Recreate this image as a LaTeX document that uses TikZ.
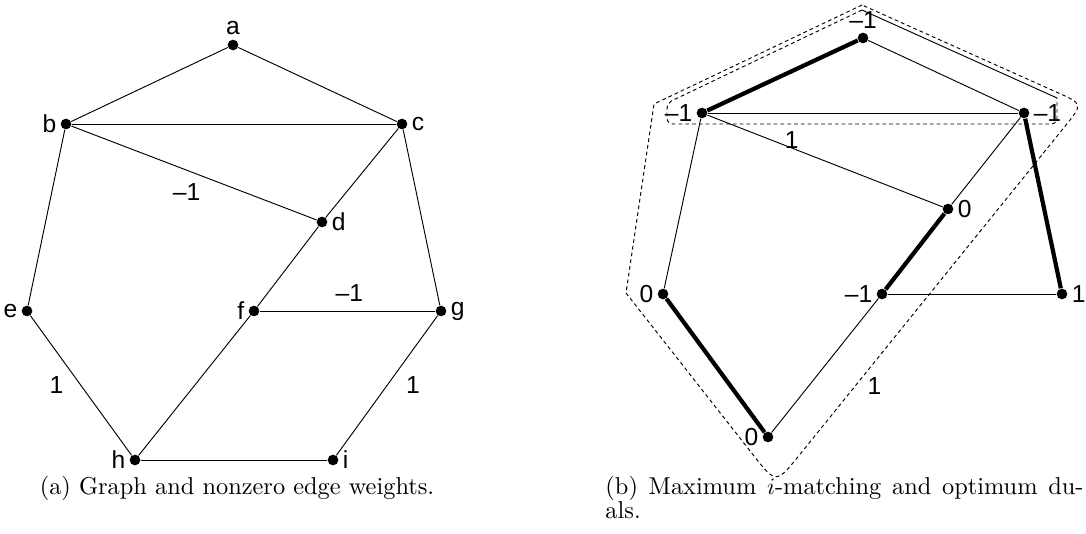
\documentclass[tikz,border=0pt]{standalone}
\usepackage{fontspec}
\newfontfamily\lblfont{Liberation Sans}
\usetikzlibrary{calc}

\tikzset{
  vert/.style={circle, fill=black, inner sep=0pt, minimum size=1.6mm},
  lbl/.style={font=\lblfont\fontsize{10.5}{12}\selectfont, inner sep=1pt},
  capt/.style={font=\fontsize{10.4}{12.5}\selectfont, inner sep=0pt},
  match/.style={line width=1.8pt},
  blob/.style={dash pattern=on 1.6pt off 1.3pt, line join=round},
  label distance=0.5pt
}

\begin{document}
\begin{tikzpicture}[x=1.5mm,y=1.5mm]
\useasboundingbox (0,0) rectangle (108.6,53.3);

% (a) graph with its nonzero weights
\foreach \nm/\px/\py/\dir in {a/23.3/48.8/above, b/6.6/40.9/left, c/40.2/40.9/right,
    d/32.2/31.1/right, e/2.7/22.2/left, f/25.4/22.2/left, g/44.1/22.2/right,
    h/13.5/7.3/left, i/33.3/7.3/right}{
  \node[vert, label={[lbl]\dir:\nm}] (\nm) at (\px,\py) {};
}
\foreach \u/\w in {a/b, a/c, b/c, c/d, d/f, b/e, c/g, f/h, h/i}{\draw (\u) -- (\w);}
\draw (b) -- node[lbl, pos=.47, below=4.5pt] {\textendash1} (d);
\draw (f) -- node[lbl, pos=.51, above=2.7pt] {\textendash1} (g);
\draw (e) -- node[lbl, left=6.3pt] {1} (h);
\draw (g) -- node[lbl, right=7pt] {1} (i);
\node[capt, anchor=base] (capa) at (23.7,3.85) {(a) Graph and nonzero edge weights.};

% (b) matching and duals
\foreach \nm/\px/\py/\dir/\val in {ra/86.3/49.5/above/\textendash1, rb/70.2/42.0/left/\textendash1,
    rc/102.4/42.0/right/\textendash1, rd/94.8/32.4/right/0, re/66.3/23.9/left/0,
    rf/88.2/23.9/left/\textendash1, rg/106.2/23.9/right/1, rh/76.8/9.6/left/0}{
  \node[vert, label={[lbl]\dir:\val}] (\nm) at (\px,\py) {};
}
\foreach \u/\w in {ra/rc, rb/rc, rb/rd, rc/rd, rb/re, rf/rg, rf/rh}{\draw (\u) -- (\w);}
\foreach \u/\w in {ra/rb, rc/rg, rd/rf, re/rh}{\draw[match] (\u) -- (\w);}

% blossom {a,b,c}
\coordinate (it) at (86.2,52.3);
\coordinate (il1) at (66.7,43.0);
\coordinate (il2) at (66.7,40.9);
\coordinate (ir2) at (105.7,40.9);
\coordinate (ir1) at (105.7,43.5);
\draw[blob, rounded corners=2.5pt] (it) -- (il1) -- (il2) -- node[lbl, pos=.32, below=2pt] {1} (ir2) -- (ir1);
\draw (ir1) -- (it);

% outer blossom
\coordinate (ot) at (86.2,52.8);
\coordinate (olt) at (65.4,42.9);
\coordinate (olb) at (62.6,24.0);
\coordinate (obot) at (77.6,4.9);
\coordinate (ort) at (108.3,42.9);
\draw[blob] (ot) -- (olt) -- (olb) -- ($(obot)!16pt!(olb)$) .. controls (obot) .. ($(obot)!16pt!(ort)$)
  -- node[lbl, pos=.21, right=4pt] {1} ($(ort)!12pt!(obot)$) .. controls (ort) .. ($(ort)!12pt!(ot)$) -- cycle;

\node[capt, anchor=base west] (capb) at (60.5,3.85)
  {\makebox[71.7mm][s]{(b) Maximum $i$-matching and optimum du-}};
\node[capt, anchor=base west] (capb2) at (60.5,1.5) {als.};
\end{tikzpicture}
\end{document}
